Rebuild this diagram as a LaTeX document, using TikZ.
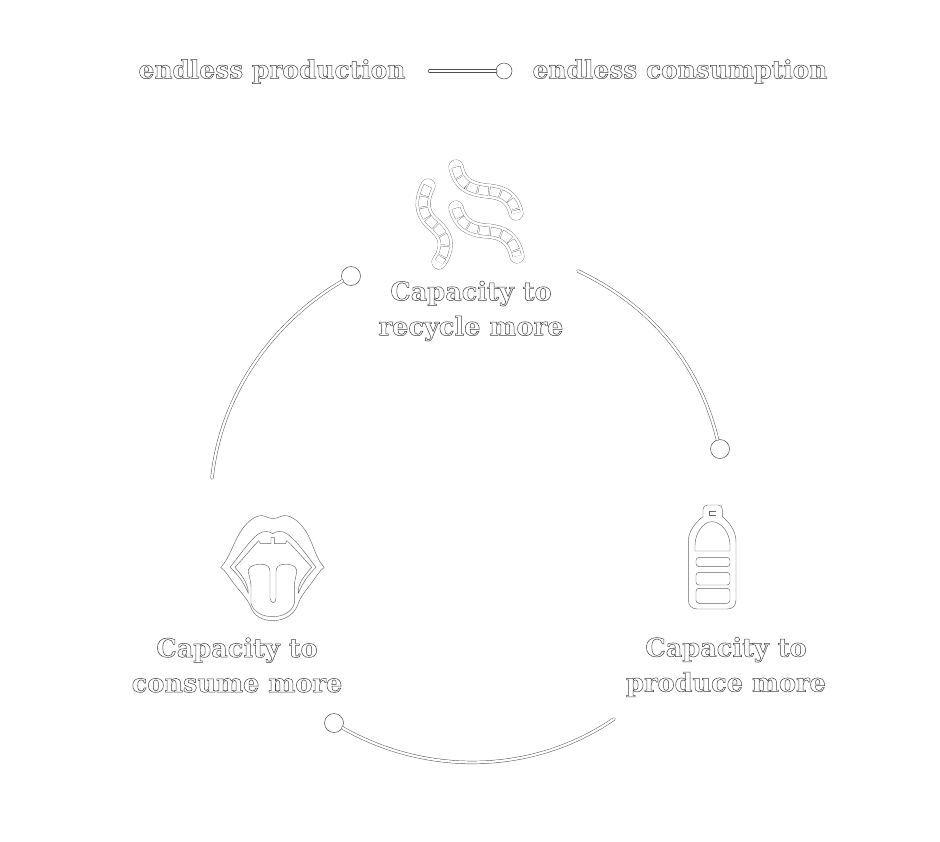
\documentclass[tikz,border=0pt]{standalone}
\usepackage{fontspec}
\setmainfont{DejaVu Serif}
\newcommand{\outl}[1]{\special{pdf:code q 2 Tr 0.5 w 0.25 G 1 g}#1\special{pdf:code Q}}
\definecolor{ink}{gray}{0.3}
\definecolor{iconink}{gray}{0.4}
\tikzset{
  tube/.style={preaction={draw=ink,line width=3.2pt,line cap=round},draw=white,line width=2.3pt,line cap=round},
  dotnode/.style={circle,draw=ink,fill=white,line width=0.5pt,inner sep=0pt,minimum size=#1},
  lab/.style={inner sep=0pt,align=center,font=\fontsize{25.6}{35}\selectfont\bfseries},
  leg/.style={inner sep=0pt,font=\fontsize{24.9}{28}\selectfont\bfseries,anchor=center},
  icon/.style={draw=iconink,line width=0.45pt,fill=white,line join=round},
}
\newcommand{\wormpath}[1]{%
  \draw[iconink,line cap=round,line width=14.8pt] #1;
  \draw[white,line cap=round,line width=14.1pt] #1;
  \draw[iconink,line cap=butt,line width=9pt,dash pattern=on 10.2pt off 1.2pt] #1;
  \draw[white,line cap=butt,line width=8.3pt,dash pattern=on 9.5pt off 1.9pt,dash phase=-0.35pt] #1;
}
\begin{document}
\begin{tikzpicture}[x=1pt,y=-1pt]
\useasboundingbox[fill=white] (0,0) rectangle (940,841);

% legend
\node[leg] (legA) at (272,71.5) {\outl{endless production}};
\node[leg] (legB) at (680,71.5) {\outl{endless consumption}};
\coordinate (legS) at (429.5,71);
\node[dotnode=16pt] (dotL) at (504,71) {};
\draw[tube] (legS) -- (dotL.west);

% labels
\node[lab] (rec) at (471,311) {\outl{Capacity to}\\\outl{recycle more}};
\node[lab] (con) at (237,665) {\outl{Capacity to}\\\outl{consume more}};
\node[lab] (pro) at (726,667) {\outl{Capacity to}\\\outl{produce more}};

% cycle
\node[dotnode=19pt] (dotA) at (720,449) {};
\node[dotnode=19pt] (dotB) at (334,723) {};
\node[dotnode=19pt] (dotC) at (351,276) {};
\coordinate (arcA) at (578,271);
\coordinate (arcB) at (614,719);
\coordinate (arcC) at (212,478);
\draw[tube] (arcA) .. controls (650.3,305.3) and (699,362.8) .. (dotA.105);
\draw[tube] (arcB) .. controls (533.4,774.2) and (427.5,776.4) .. (dotB.-30);
\draw[tube] (arcC) .. controls (220.7,395.5) and (271,323) .. (dotC.210);

% worms
\wormpath{(456,167) .. controls (460,185) and (470,189) .. (487,191) .. controls (503,192) and (513,198) .. (516,213)}
\wormpath{(456,208) .. controls (460,224) and (470,230) .. (487,231) .. controls (503,232) and (513,238) .. (517,256)}
\wormpath{(428,186) .. controls (421,200) and (421,212) .. (431,222) .. controls (443,232) and (448,240) .. (444,252) .. controls (443,256) and (441,259) .. (439,262)}

% mouth
\begin{scope}[shift={(210,505)},x=0.3333pt,y=-0.3333pt]
\draw[icon] (32,187) .. controls (60,160) and (70,110) .. (95,75) .. controls (115,45) and (145,25) .. (165,34) .. controls (175,38) and (183,41) .. (189,41) .. controls (195,41) and (203,38) .. (213,34) .. controls (235,25) and (265,45) .. (285,75) .. controls (310,110) and (315,160) .. (343,187)
  .. controls (325,200) and (320,215) .. (300,240) .. controls (280,265) and (270,280) .. (263,300) .. controls (250,335) and (215,347) .. (188,347) .. controls (160,347) and (130,335) .. (120,300) .. controls (110,280) and (95,265) .. (75,240) .. controls (55,215) and (50,200) .. (32,187) -- cycle;
\draw[icon] (60,187) .. controls (90,150) and (120,105) .. (145,87) .. controls (160,76) and (178,78) .. (188,86) .. controls (198,78) and (216,76) .. (232,87) .. controls (258,105) and (290,150) .. (318,187)
  .. controls (295,210) and (280,230) .. (265,265) .. controls (262,240) and (280,215) .. (305,187)
  .. controls (285,165) and (255,130) .. (231,107) -- (226,116) -- (193,116) -- (193,97) -- (183,97) -- (183,116) -- (152,116) -- (146,107) .. controls (125,130) and (95,165) .. (75,187)
  .. controls (100,215) and (115,240) .. (115,265) .. controls (100,230) and (85,210) .. (60,187) -- cycle;
\draw[icon] (115,195) .. controls (118,180) and (145,176) .. (160,178) .. controls (172,180) and (180,186) .. (180,200) -- (180,280) .. controls (182,288) and (186,293) .. (190,293) .. controls (194,293) and (198,288) .. (198,280) -- (198,200) .. controls (198,186) and (206,180) .. (218,178) .. controls (235,176) and (258,180) .. (260,195) .. controls (260,212) and (253,225) .. (253,245) -- (253,295) .. controls (245,322) and (218,335) .. (188,335) .. controls (158,335) and (131,322) .. (123,295) -- (123,245) .. controls (123,225) and (115,212) .. (115,195) -- cycle;
\end{scope}

% bottle
\begin{scope}[shift={(670,495)},x=0.3333pt,y=-0.3333pt]
\draw[icon] (112,30) -- (145,30) .. controls (153,30) and (157,36) .. (157,44) -- (157,65) .. controls (175,80) and (198,105) .. (198,140) -- (198,315) .. controls (198,332) and (188,342) .. (172,342) -- (82,342) .. controls (66,342) and (55,332) .. (55,315) -- (55,140) .. controls (55,105) and (80,80) .. (99,65) -- (99,44) .. controls (99,36) and (104,30) .. (112,30) -- cycle;
\draw[icon] (75,168) -- (75,150) .. controls (75,115) and (100,80) .. (125,80) .. controls (155,80) and (180,115) .. (180,150) -- (180,168) -- cycle;
\draw[icon,rounded corners=3pt] (78,187) rectangle (180,215);
\draw[icon,rounded corners=3pt] (78,232) rectangle (180,270);
\draw[icon,rounded corners=3pt] (78,280) rectangle (180,325);
\draw[icon] (138,48) -- (118,48) -- (118,60) -- (138,60);
\end{scope}
\end{tikzpicture}
\end{document}
